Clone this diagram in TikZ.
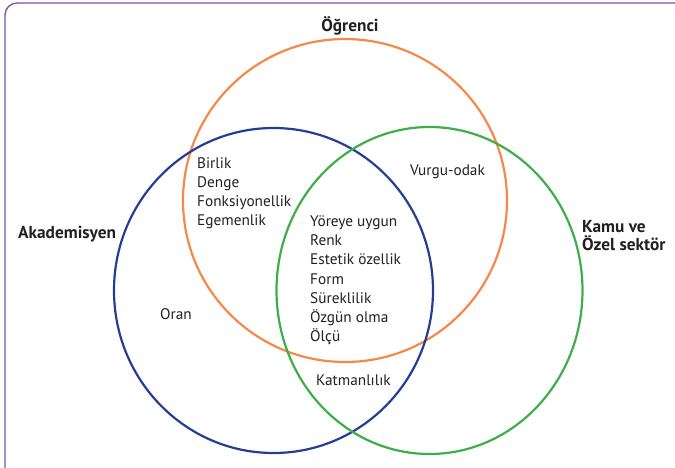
\documentclass[tikz,border=0pt]{standalone}
\usepackage{fontspec}
\setmainfont{PT Sans}
\definecolor{frameC}{HTML}{7D4E9F}
\definecolor{orangeC}{HTML}{F5894A}
\definecolor{blueC}{HTML}{243F92}
\definecolor{greenC}{HTML}{3EAE4A}
\definecolor{textC}{HTML}{231F20}
\begin{document}
\begin{tikzpicture}[x=1pt,y=-1pt,
  ring/.style={line width=2.2pt},
  body/.style={inner sep=0pt,anchor=north west,align=left,text=textC,
    font=\fontsize{15.3}{19.2}\selectfont},
  head/.style={inner sep=0pt,text=textC,font=\fontsize{17.3}{18.5}\selectfont\bfseries}]
\useasboundingbox (0,0) rectangle (675,467);
\draw[frameC,line width=1.3pt] (5,470) -- (5,15) arc[start angle=180,end angle=270,radius=12] -- (680,3);
\draw[ring,orangeC] (345,200.5) ellipse[x radius=162,y radius=161.5];
\draw[ring,blueC] (273.5,290.5) ellipse[x radius=159.5,y radius=162.5];
\draw[ring,greenC] (429.5,290.5) ellipse[x radius=153,y radius=163.5];
\node[head,anchor=base] (ogr) at (350,31) {Öğrenci};
\node[head,anchor=base west] (aka) at (18,238) {Akademisyen};
\node[head,anchor=north west,align=left] (kamu) at (582,220) {Kamu ve\\Özel sektör};
\node[body] (left) at (197,157) {Birlik\\Denge\\Fonksiyonellik\\Egemenlik};
\node[body] (mid) at (310,215.5) {Yöreye uygun\\Renk\\Estetik özellik\\Form\\Süreklilik\\Özgün olma\\Ölçü};
\node[body] (vurgu) at (410,165) {Vurgu-odak};
\node[body] (oran) at (160,308) {Oran};
\node[body] (katman) at (316,375) {Katmanlılık};
\end{tikzpicture}
\end{document}
